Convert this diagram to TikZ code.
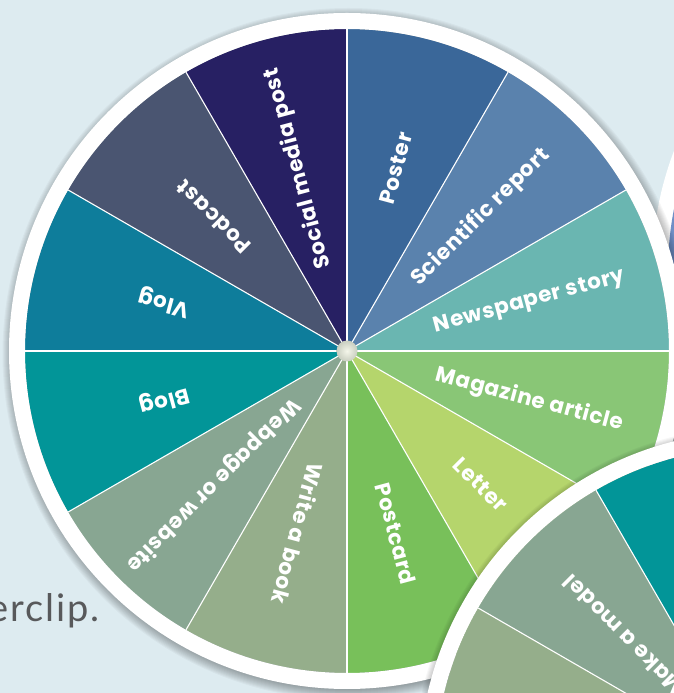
\documentclass[tikz,border=0pt]{standalone}
\usepackage{fontspec}
\setmainfont{Poppins}
\newfontfamily\lblfont{Poppins}[LetterSpace=3]
\newfontfamily\capfont{Lato}[LetterSpace=5]
\usetikzlibrary{calc}
\definecolor{bg}{HTML}{DDEBF0}
\definecolor{cPoster}{HTML}{3A6799}
\definecolor{cSci}{HTML}{5A82AD}
\definecolor{cNews}{HTML}{6AB6B1}
\definecolor{cMag}{HTML}{89C676}
\definecolor{cLetter}{HTML}{B5D56C}
\definecolor{cPostcard}{HTML}{78C05A}
\definecolor{cBook}{HTML}{95AE8B}
\definecolor{cWeb}{HTML}{88A692}
\definecolor{cBlog}{HTML}{029598}
\definecolor{cVlog}{HTML}{0E7D9B}
\definecolor{cPodcast}{HTML}{4A5571}
\definecolor{cSocial}{HTML}{272063}
\definecolor{cThree}{HTML}{6F8FC6}
\definecolor{hubin}{HTML}{F4F6EA}
\definecolor{hubout}{HTML}{C9CEC0}
\definecolor{capgray}{HTML}{58595B}
\tikzset{
  sepline/.style={draw=white, line width=1.1pt},
  ringline/.style={draw=white, line width=16pt},
  lbl/.style={text=white, font=\lblfont\fontsize{21.5}{21.5}\selectfont\bfseries, inner sep=0pt},
  shadowdisk/.style={fill=black, opacity=0.03},
}
\begin{document}
\begin{tikzpicture}[x=1pt,y=1pt]
\useasboundingbox (0,0) rectangle (674,693);
\clip (0,0) rectangle (674,693);
\fill[bg] (0,0) rectangle (674,693);
\coordinate (c1) at (347,342);
\coordinate (c2) at (757,-76);
\coordinate (c3) at (990,422);

% wheel 3 (background, top right)
\fill[white] (c3) circle (338);
\fill[cThree] (c3) circle (322);

% shadow of wheel 1
\foreach \k in {0,...,10} {
  \fill[shadowdisk] ($(c1)+(1.5,-3)$) circle ({336+\k});
}

% wheel 1 sectors
\foreach \a/\col in {90/cPoster,60/cSci,30/cNews,0/cMag,-30/cLetter,-60/cPostcard,-90/cBook,-120/cWeb,-150/cBlog,-180/cVlog,150/cPodcast,120/cSocial} {
  \fill[\col] (c1) -- ($(c1)+(\a:322)$) arc[start angle=\a, end angle=\a-30, radius=322] -- cycle;
}
\foreach \a in {0,30,...,330} {
  \draw[sepline] (c1) -- ($(c1)+(\a:322)$);
}
\draw[ringline] (c1) circle (330);
\foreach \m/\txt in {75/Poster,45/Scientific report,15/Newspaper story,-15/Magazine article,-45/Letter,-75/Postcard,-105/Write a book,-135/Webpage or website,-165/Blog,165/Vlog,135/Podcast,105/Social media post} {
  \node[lbl, rotate=\m] at ($(c1)+(\m:189)$) {\txt};
}
\shade[inner color=hubin, outer color=hubout] (c1) circle (10.5);

% shadow of wheel 2
\foreach \k in {0,...,10} {
  \fill[shadowdisk] ($(c2)+(1.5,-3)$) circle ({336+\k});
}
% wheel 2
\foreach \a/\col in {120/cBlog,150/cWeb,180/cBook} {
  \fill[\col] (c2) -- ($(c2)+(\a:322)$) arc[start angle=\a, end angle=\a-30, radius=322] -- cycle;
}
\foreach \a in {90,120,150,180} {
  \draw[sepline] (c2) -- ($(c2)+(\a:322)$);
}
\draw[ringline] (c2) circle (330);
\node[lbl, rotate=135] at ($(c2)+(135:189)$) {Make a model};

% cut-off caption text
\node[anchor=base west, inner sep=0pt, text=capgray, font=\capfont\fontsize{38}{38}\selectfont] at (-12,71) {erclip.};
\end{tikzpicture}
\end{document}
